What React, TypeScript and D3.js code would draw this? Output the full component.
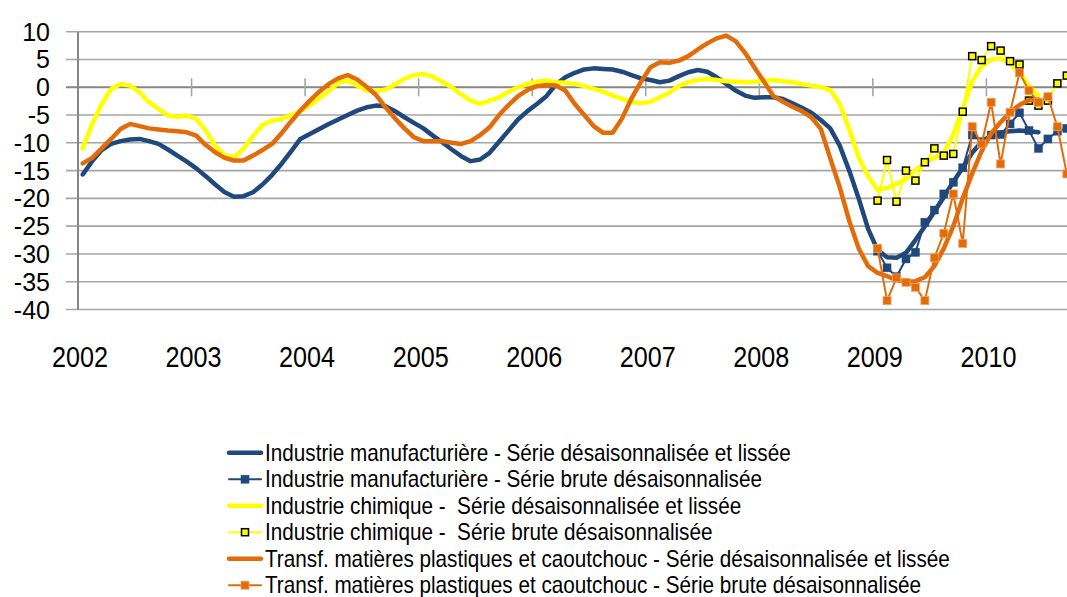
import React, { useEffect } from "react";
import * as d3 from "d3";

// monthly categories Jan 2002 .. Dec 2010 (chart is cropped on the right)
const years = ["2002", "2003", "2004", "2005", "2006", "2007", "2008", "2009", "2010"];
const months = years.flatMap((y) => d3.range(1, 13).map((m) => `${y}-${String(m).padStart(2, "0")}`));
const yTicks = [10, 5, 0, -5, -10, -15, -20, -25, -30, -35, -40];

// smoothed series start Jan 2002
const manufSmooth = [
  -15.7, -13.3, -11.3, -10.2, -9.7, -9.4, -9.3, -9.7, -10.2, -11.2, -12.3, -13.4,
  -14.6, -16.0, -17.5, -18.9, -19.7, -19.6, -18.9, -17.5, -15.8, -13.8, -11.6, -9.3,
  -8.4, -7.5, -6.6, -5.8, -5.0, -4.2, -3.6, -3.3, -3.4, -4.3, -5.4, -6.4,
  -7.4, -8.7, -9.9, -11.2, -12.4, -13.3, -13.0, -11.8, -9.8, -7.8, -5.8, -4.3,
  -3.0, -1.6, 0.5, 1.8, 2.6, 3.2, 3.4, 3.3, 3.2, 2.8, 2.2, 1.6,
  1.3, 0.9, 1.2, 2.0, 2.7, 3.1, 2.8, 1.8, 0.6, -0.6, -1.5, -1.9,
  -1.8, -1.8, -2.1, -2.9, -3.7, -4.6, -5.9, -7.4, -10.5, -15.0, -20.0, -25.5,
  -29.3, -30.6, -30.7, -29.8, -27.5, -25.0, -22.4, -19.8, -17.0, -14.5, -11.8, -9.8,
  -8.7, -8.2, -7.9, -7.8, -7.9, -8.1,
];
const chemSmooth = [
  -11.0, -6.6, -3.0, -0.3, 0.6, 0.3, -0.9, -2.7, -3.9, -5.1, -5.3, -5.1,
  -5.7, -7.8, -10.5, -12.3, -12.6, -11.0, -8.8, -6.8, -6.0, -5.7, -5.0, -4.3,
  -3.2, -2.0, -0.7, 0.8, 1.2, 0.3, -0.6, -0.7, -0.4, 0.5, 1.5, 2.2,
  2.4, 1.9, 1.0, 0.0, -1.3, -2.4, -3.0, -2.4, -1.8, -0.8, 0.0, 0.6,
  1.0, 1.2, 0.9, 0.8, 0.6, 0.2, -0.3, -0.8, -1.5, -2.1, -2.6, -2.9,
  -2.6, -1.8, -1.0, 0.3, 0.9, 1.3, 1.5, 1.3, 1.1, 1.0, 0.9, 1.0,
  1.2, 1.3, 1.1, 0.9, 0.6, 0.3, 0.0, -0.5, -3.0, -7.5, -12.6, -16.0,
  -18.5, -18.1, -17.4, -16.5, -15.0, -13.6, -12.7, -11.8, -8.5, -3.8, 1.0, 3.8,
  5.0, 5.2, 4.2, 2.6, 0.2, -1.5,
];
const plastSmooth = [
  -13.7, -12.7, -11.0, -9.3, -7.5, -6.6, -7.0, -7.4, -7.6, -7.8, -7.9, -8.1,
  -8.7, -10.4, -11.7, -12.7, -13.2, -13.2, -12.3, -11.3, -10.2, -8.3, -6.2, -4.2,
  -2.4, -0.8, 0.6, 1.6, 2.2, 1.4, 0.1, -1.4, -3.6, -5.6, -7.4, -9.0,
  -9.7, -9.7, -9.7, -10.0, -10.2, -9.7, -8.6, -7.2, -5.0, -3.2, -1.6, -0.5,
  0.2, 0.4, 0.3, -0.6, -3.0, -5.0, -7.0, -8.2, -8.2, -5.6, -2.0, 1.0,
  3.6, 4.5, 4.4, 4.8, 5.6, 6.8, 7.9, 8.8, 9.3, 8.3, 6.2, 3.5,
  1.0, -1.6, -2.6, -3.5, -4.3, -5.4, -7.5, -12.8, -18.0, -24.0, -29.0, -32.2,
  -33.4, -34.0, -34.7, -35.0, -34.9, -34.2, -32.2, -29.0, -25.0, -20.0, -15.5, -11.5,
  -8.3, -6.3, -4.5, -3.2, -2.3, -2.2,
];

// raw series start Jan 2009
const rawStart = 84;
const manufRaw = [
  -29.5, -32.5, -34.1, -30.9, -29.7, -24.3, -22.1, -19.2, -17.1, -14.5, -8.6, -9.8,
  -8.6, -8.5, -6.6, -4.6, -7.8, -11.0, -9.3, -7.9, -7.4,
];
const chemRaw = [
  -20.4, -13.1, -20.6, -15.0, -16.8, -13.5, -11.0, -12.3, -12.0, -4.4, 5.6, 4.9,
  7.4, 6.6, 4.7, 4.1, -2.4, -3.3, -2.4, 0.7, 2.1,
];
const plastRaw = [
  -29.0, -38.4, -34.3, -35.1, -36.0, -38.4, -30.7, -26.3, -19.2, -28.1, -7.1, -10.2,
  -2.7, -13.8, -4.5, 2.6, -0.6, -2.7, -1.7, -7.1, -15.6,
];

const legendLabels = [
  "Industrie manufacturière - Série désaisonnalisée et lissée",
  "Industrie manufacturière - Série brute désaisonnalisée",
  "Industrie chimique -  Série désaisonnalisée et lissée",
  "Industrie chimique -  Série brute désaisonnalisée",
  "Transf. matières plastiques et caoutchouc - Série désaisonnalisée et lissée",
  "Transf. matières plastiques et caoutchouc - Série brute désaisonnalisée",
];

const BLUE = "#1F497D";
const YELLOW = "#FFFF00";
const ORANGE = "#E36C09";
const FONT = "'Liberation Sans Narrow', 'Arial Narrow', 'Liberation Sans', sans-serif";

const W = 1067;
const H = 597;

export default function App() {
  useEffect(() => {
    document.body.style.margin = "0";
  }, []);

  const left = 78;
  const monthW = 9.4625;
  const x = d3.scaleBand<string>().domain(months).range([left, left + months.length * monthW]);
  const y = d3.scaleLinear().domain([-40, 10]).range([309.5, 31.7]);
  const cx = (i: number) => (x(months[i]) as number) + x.bandwidth() / 2;

  const line = d3
    .line<[number, number]>()
    .x((d) => cx(d[0]))
    .y((d) => y(d[1]));

  const pts = (vals: number[], start = 0): [number, number][] => vals.map((v, i) => [start + i, v]);

  const series = [
    { type: "smooth", color: BLUE, data: pts(manufSmooth) },
    { type: "raw", color: BLUE, data: pts(manufRaw, rawStart), marker: "blue" },
    { type: "smooth", color: YELLOW, data: pts(chemSmooth) },
    { type: "raw", color: YELLOW, data: pts(chemRaw, rawStart), marker: "yellow" },
    { type: "smooth", color: ORANGE, data: pts(plastSmooth) },
    { type: "raw", color: ORANGE, data: pts(plastRaw, rawStart), marker: "orange" },
  ];

  const marker = (kind: string, px: number, py: number, key: any) => {
    if (kind === "blue")
      return <rect key={key} x={px - 4} y={py - 4} width={8} height={8} fill={BLUE} stroke={BLUE} strokeWidth={0.5} />;
    if (kind === "yellow")
      return <rect key={key} x={px - 3.5} y={py - 3.5} width={7} height={7} fill={YELLOW} stroke="#000" strokeWidth={1.5} />;
    return <rect key={key} x={px - 4} y={py - 4} width={8} height={8} fill={ORANGE} stroke="#F0A262" strokeWidth={0.8} />;
  };

  const yearTicks = years.map((yr) => ({ yr, px: x(`${yr}-01`) as number }));

  return (
    <svg width={W} height={H} style={{ display: "block", background: "#fff" }} fontFamily={FONT}>
      {/* gridlines */}
      {yTicks.map((t) => (
        <line
          key={t}
          x1={66}
          x2={W}
          y1={y(t)}
          y2={y(t)}
          stroke={t === 0 ? "#868686" : "#A6A6A6"}
          strokeWidth={t === 0 ? 2.2 : 1.6}
        />
      ))}
      {/* y axis */}
      <line x1={left} x2={left} y1={y(10)} y2={y(-40)} stroke="#868686" strokeWidth={2} />
      {/* year ticks on zero line */}
      {yearTicks.slice(1).map((t) => (
        <line key={t.yr} x1={t.px} x2={t.px} y1={y(0) - 9} y2={y(0) + 9} stroke="#A6A6A6" strokeWidth={1.6} />
      ))}
      {/* y labels */}
      {yTicks.map((t) => (
        <text key={t} x={50} y={y(t) + 9} textAnchor="end" fontSize={25} fill="#000">
          {t}
        </text>
      ))}
      {/* x labels */}
      {yearTicks.map((t) => (
        <text
          key={t.yr}
          transform={`translate(${t.px + 2},367) scale(0.84,1)`}
          textAnchor="middle"
          fontSize={30}
          fill="#000"
        >
          {t.yr}
        </text>
      ))}
      {/* series */}
      {series.map((s, i) => (
        <g key={i}>
          <path
            d={line(s.data) as string}
            fill="none"
            stroke={s.color}
            strokeWidth={s.type === "smooth" ? 4.5 : 2}
            strokeLinejoin="round"
            strokeLinecap="round"
          />
          {s.type === "raw" && s.data.map((d, j) => marker(s.marker as string, cx(d[0]), y(d[1]), j))}
        </g>
      ))}
      {/* legend */}
      {legendLabels.map((lab, i) => {
        const cy = 452.7 + i * 26.5;
        const s = series[i];
        return (
          <g key={lab}>
            <line
              x1={229}
              x2={261}
              y1={cy}
              y2={cy}
              stroke={s.color}
              strokeWidth={s.type === "smooth" ? 4.5 : 2}
              strokeLinecap="round"
            />
            {s.type === "raw" && marker(s.marker as string, 245, cy, "m")}
            <text
              transform={`translate(265,${cy + 8}) scale(0.9,1)`}
              fontSize={23}
              fill="#000"
              style={{ whiteSpace: "pre" }}
            >
              {lab}
            </text>
          </g>
        );
      })}
    </svg>
  );
}
